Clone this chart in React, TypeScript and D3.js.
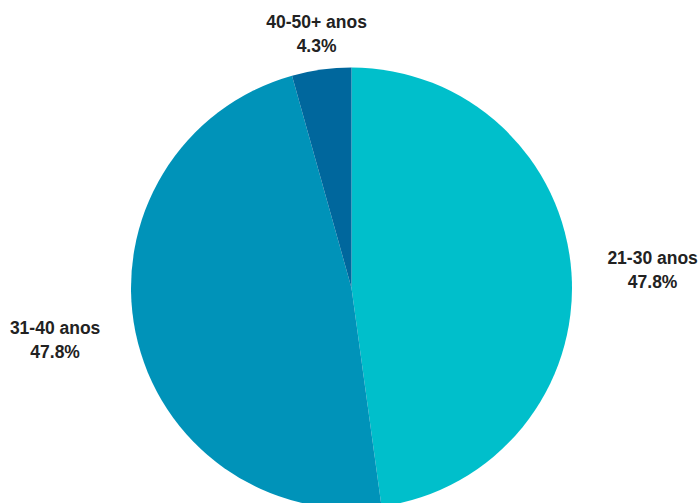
import React from "react";
import * as d3 from "d3";

const categories = ["21-30 anos", "31-40 anos", "40-50+ anos"];
const values = [11, 11, 1];
const percentLabels = ["47.8%", "47.8%", "4.3%"];
const colors = ["#00BFCB", "#0093B9", "#00679D"];

const W = 699;
const H = 503;
const FONT = "bold 17.5px 'Liberation Sans', Arial, sans-serif";

function measure(t: string): number {
  const cv = document.createElement("canvas");
  const ctx = cv.getContext("2d");
  if (!ctx) return t.length * 9;
  ctx.font = FONT;
  return ctx.measureText(t).width;
}

export default function App() {
  const cx = 351.5;
  const cy = 288;
  const R = 220.5;
  const labelR = R + 36;

  const pie = d3.pie<number>().sort(null).value((d) => d);
  const arcs = pie(values);
  const arcGen = d3.arc<d3.PieArcDatum<number>>().innerRadius(0).outerRadius(R);

  return (
    <svg
      width={W}
      height={H}
      style={{ position: "absolute", left: 0, top: 0, background: "#fff" }}
    >
      <g transform={`translate(${cx},${cy})`}>
        {arcs.map((a, i) => (
          <path key={i} d={arcGen(a) || ""} fill={colors[i]} />
        ))}
      </g>
      {arcs.map((a, i) => {
        const mid = (a.startAngle + a.endAngle) / 2;
        const s = Math.sin(mid);
        const c = Math.cos(mid);
        const w = Math.max(measure(categories[i]), measure(percentLabels[i]));
        const edgeX = cx + s * labelR;
        const side = Math.abs(s) < 0.4 ? 0 : s > 0 ? 1 : -1;
        const x = edgeX + side * (w / 2);
        const yc = cy - c * labelR;
        return (
          <text
            key={i}
            x={x}
            textAnchor="middle"
            fontFamily="'Liberation Sans', Arial, sans-serif"
            fontWeight="bold"
            fontSize={17.5}
            fill="#222"
          >
            <tspan x={x} y={yc - 6}>{categories[i]}</tspan>
            <tspan x={x} y={yc + 18}>{percentLabels[i]}</tspan>
          </text>
        );
      })}
    </svg>
  );
}
